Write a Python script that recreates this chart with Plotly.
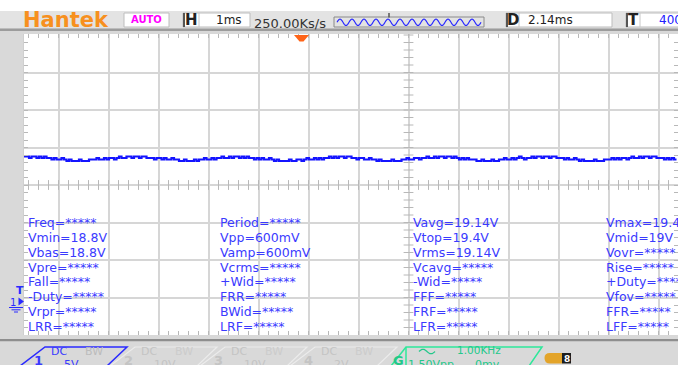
import math
import numpy as np
import plotly.graph_objects as go

# ---------------- channel 1 record ----------------
# volts, one sample every 0.05 ms, first sample at -5.55 ms (trigger at 0 ms)
ch1_volts = [
    19.4, 19.4, 19.2, 19.4, 19.4, 19.2, 19.4, 19.2, 19.4, 19.2,
    19.2, 19.0, 19.2, 19.0, 19.0, 19.2, 19.0,
    18.8, 19.0, 18.8, 18.8, 18.8, 19.0, 18.8, 18.8, 18.8, 19.0,
    19.0, 19.0, 19.2, 19.0, 19.0, 19.2, 19.0, 19.2, 19.2, 19.0, 19.2, 19.4, 19.2, 19.2, 19.4,
    19.4, 19.2, 19.4, 19.4, 19.2, 19.4, 19.4, 19.2,
    19.2, 19.2, 19.0, 19.2, 19.2, 19.0, 19.2, 19.0, 19.0, 19.2, 19.0, 19.0,
    18.8, 18.8, 19.0, 18.8, 18.8, 18.8,
    19.0, 18.8, 19.0, 19.0, 19.2, 19.0, 19.0, 19.2, 19.0, 19.2, 19.2, 19.4, 19.2, 19.2,
    19.4, 19.2, 19.4, 19.4, 19.2, 19.4, 19.2, 19.4,
    19.2, 19.2, 19.0, 19.2, 19.0, 19.2, 19.0, 19.0, 19.2, 19.0,
    18.8, 19.0, 18.8, 18.8, 18.8, 18.8, 19.0, 18.8, 18.8, 19.0,
    19.0, 18.8, 19.0, 19.2, 19.0, 19.0, 19.2, 19.0, 19.2, 19.0, 19.2, 19.2, 19.4, 19.2,
    19.4, 19.2, 19.4, 19.4, 19.2, 19.4, 19.4,
    19.2, 19.2, 19.0, 19.2, 19.2, 19.0, 19.0, 19.2, 19.0, 19.0,
    18.8, 19.0, 18.8, 18.8, 18.8, 18.8, 19.0, 18.8, 18.8, 18.8,
    19.0, 19.0, 19.2, 19.0, 19.0, 19.2, 19.2, 19.0, 19.2, 19.2, 19.4, 19.2, 19.2,
    19.4, 19.2, 19.4, 19.4, 19.2, 19.4, 19.4, 19.2, 19.4,
    19.2, 19.0, 19.2, 19.0, 19.2, 19.0, 19.0, 19.0,
    18.8, 18.8, 19.0, 18.8, 18.8, 18.8, 19.0, 18.8, 18.8,
    19.0, 19.0, 19.2, 19.0, 19.0, 19.2, 19.0, 19.2, 19.4, 19.2, 19.0, 19.2, 19.2, 19.4, 19.2,
    19.4, 19.4, 19.2, 19.4, 19.4, 19.2, 19.4, 19.4, 19.2,
    19.2, 19.2, 19.0, 19.2, 19.0, 19.0, 19.2, 19.0,
    18.8, 19.0, 18.8, 18.8, 18.8, 18.8, 19.0, 18.8, 18.8, 18.8, 19.0,
    19.0, 19.0, 19.2, 19.0, 19.2, 19.0, 19.2, 19.2, 19.0, 19.2, 19.4, 19.2, 19.2,
    19.4, 19.2, 19.4, 19.4, 19.2, 19.4, 19.4, 19.2,
    19.2, 19.2, 19.0, 19.2, 19.0, 19.2, 19.0, 19.0,
]
T0_MS = -5.55
DT_MS = 0.05

# ---------------- scope settings ----------------
volts_per_div = 5
ms_per_div = 1
delay_ms = 2.14
center_volts = 15.6          # ch1 value at the screen's centre line

timebase_text = "1ms"
sample_rate_text = "250.00Ks/s"
delay_text = "2.14ms"
trigger_text = "400mV"
mode_text = "AUTO"

# ---------------- automatic measurements ----------------
meas_col1 = ["Freq=*****", "Vmin=18.8V", "Vbas=18.8V", "Vpre=*****",
             "Fall=*****", "-Duty=*****", "Vrpr=*****", "LRR=*****"]
meas_col2 = ["Period=*****", "Vpp=600mV", "Vamp=600mV", "Vcrms=*****",
             "+Wid=*****", "FRR=*****", "BWid=*****", "LRF=*****"]
meas_col3 = ["Vavg=19.14V", "Vtop=19.4V", "Vrms=19.14V", "Vcavg=*****",
             "-Wid=*****", "FFF=*****", "FRF=*****", "LFR=*****"]
meas_col4 = ["Vmax=19.4V", "Vmid=19V", "Vovr=*****", "Rise=*****",
             "+Duty=*****", "Vfov=*****", "FFR=*****", "LFF=*****"]

# ---------------- channel tabs / generator ----------------
chan_ids = ["1", "2", "3", "4"]
chan_coupling = ["DC", "DC", "DC", "DC"]
chan_scale = ["5V", "10V", "10V", "2V"]
gen_freq = "1.00KHz"
gen_amp = "1.50Vpp"
gen_offset = "0mv"

# ---------------- page geometry (pixels) ----------------
W, H = 678, 365
L, R, T, B = 24, 678, 34, 335
GND_PX = 302.0
TRIG_PX = 301.5
PX_PER_MS = 50.0
PX_PER_V = 37.5 / volts_per_div

FONT = "DejaVu Sans"
MEAS_BLUE = "#3a3aff"
GRID = "#d6d6d6"
TICK = "#b8b8b8"


def fx(px):
    return (px - L) / (R - L)


def fy(py):
    return (B - py) / (B - T)


shapes = []
annotations = []


def rect(x0, y0, x1, y1, fill=None, line=None, lw=1.0):
    shapes.append(dict(
        type="rect", xref="paper", yref="paper",
        x0=fx(x0), x1=fx(x1), y0=fy(y1), y1=fy(y0),
        fillcolor=fill or "rgba(0,0,0,0)",
        line=dict(color=line or "rgba(0,0,0,0)", width=lw if line else 0),
        layer="above"))


def seg(x0, y0, x1, y1, color, lw=1.0):
    shapes.append(dict(
        type="line", xref="paper", yref="paper",
        x0=fx(x0), x1=fx(x1), y0=fy(y0), y1=fy(y1),
        line=dict(color=color, width=lw), layer="above"))


def poly(points, fill=None, line=None, lw=1.0, closed=True):
    d = "M " + " L ".join(f"{fx(a):.5f},{fy(b):.5f}" for a, b in points)
    if closed:
        d += " Z"
    shapes.append(dict(
        type="path", xref="paper", yref="paper", path=d,
        fillcolor=fill or "rgba(0,0,0,0)",
        line=dict(color=line or "rgba(0,0,0,0)", width=lw if line else 0),
        layer="above"))


def sine_icon(x0, x1, yc, amp, period, color, lw):
    n = int((x1 - x0) * 2)
    pts = [(x0 + k * 0.5, yc - amp * math.sin(2 * math.pi * (k * 0.5) / period))
           for k in range(n + 1)]
    poly(pts, line=color, lw=lw, closed=False)


def label(px, py, text, color, size, anchor="left", bold=False, family=FONT, box_h=None):
    if bold:
        text = f"<b>{text}</b>"
    ann = dict(
        x=fx(px), y=fy(py), xref="paper", yref="paper", text=text,
        showarrow=False, xanchor=anchor, yanchor="middle",
        font=dict(family=family, size=size, color=color))
    if box_h is not None:
        ann["height"] = box_h
        ann["borderpad"] = 0
    annotations.append(ann)


# ---------------- top status bar ----------------
rect(0, 0, W, 11, fill="#ffffff")
rect(0, 11, W, 28.5, fill="#e3e3e3")
rect(0, 28.5, W, 31, fill="#9c9c9c")
rect(0, 31, W, T, fill="#d8d8d8")

label(66, 19.5, "Hantek", "#f7901e", 21, anchor="center", bold=True)

rect(124, 13, 169, 27, fill="#ffffff", line="#bdbdbd")
label(146.5, 20, mode_text, "#ff00ff", 10, anchor="center", bold=True)

rect(183, 13, 250, 27, fill="#ffffff", line="#bdbdbd")
seg(184, 13, 184, 27, "#555555", 2)
seg(199, 13, 199, 27, "#c8c8c8", 1)
label(191.5, 20, "H", "#222222", 15, anchor="center", bold=True)
label(229, 20, timebase_text, "#222222", 12, anchor="center")

label(252, 23, sample_rate_text, "#333333", 13)

# memory overview strip with its mini waveform
rect(334, 17, 484, 27, line="#8a8a8a")
sine_icon(337, 481, 22.3, 3.2, 12.0, "#2a2aff", 1.2)
seg(389, 13, 389, 17.5, "#555555", 1.5)

rect(506, 13, 612, 27, fill="#ffffff", line="#bdbdbd")
seg(507, 13, 507, 27, "#555555", 2)
seg(519, 13, 519, 27, "#c8c8c8", 1)
label(513, 20, "D", "#222222", 15, anchor="center", bold=True)
label(526, 20, delay_text, "#222222", 12)

rect(626, 13, 700, 27, fill="#ffffff", line="#bdbdbd")
seg(627, 13, 627, 27, "#555555", 2)
seg(640, 13, 640, 27, "#c8c8c8", 1)
label(633, 20, "T", "#222222", 15, anchor="center", bold=True)
label(657, 20, trigger_text, "#2020ff", 12)

# ---------------- bottom bar ----------------
rect(0, B, W, 339, fill="#d8d8d8")
rect(0, 339, W, 341.5, fill="#8e8e8e")
rect(0, 341.5, W, H, fill="#d9d9d9")

ROW_H = 10.5
TOP_ROW, LOW_ROW = 351.5, 364.5
for i, cid in enumerate(chan_ids):
    off = 90 * i
    active = i == 0
    edge = "#2a2aff" if active else "#ececec"
    txt = "#3a3aff" if active else "#c4c4c4"
    poly([(20 + off, 366), (45 + off, 347), (127 + off, 347), (107 + off, 366)],
         line=edge, lw=1.5 if active else 1.2, closed=False)
    label(38 + off, 360.5, cid, txt, 13, anchor="center", bold=True)
    label(50 + off, TOP_ROW, chan_coupling[i], txt, 11, box_h=ROW_H)
    label(84 + off, TOP_ROW, "BW", "#bcbcbc" if active else "#cccccc", 11, box_h=ROW_H)
    label(63 + off, LOW_ROW, chan_scale[i], txt, 11, box_h=ROW_H)

GEN = "#2ee79a"
GEN_TXT = "#22c88a"
poly([(391, 366), (406, 347), (542, 347), (529, 366)], line=GEN, lw=1.5, closed=False)
seg(406, 347, 406, 366, GEN, 1.5)
label(398, 360.5, "G", GEN_TXT, 13, anchor="center", bold=True)
sine_icon(419, 435, 351.5, 2.2, 16.0, GEN_TXT, 1.3)
label(456, 351, gen_freq, GEN_TXT, 10.5, box_h=ROW_H)
label(407, LOW_ROW, gen_amp, GEN_TXT, 11, box_h=ROW_H)
label(474, LOW_ROW, gen_offset, GEN_TXT, 11, box_h=ROW_H)

# run-state pill
shapes.append(dict(type="path", xref="paper", yref="paper",
                   path=(f"M {fx(562):.5f},{fy(353):.5f} L {fx(550):.5f},{fy(353):.5f} "
                         f"Q {fx(544.5):.5f},{fy(353):.5f} {fx(544.5):.5f},{fy(358):.5f} "
                         f"Q {fx(544.5):.5f},{fy(363.5):.5f} {fx(550):.5f},{fy(363.5):.5f} "
                         f"L {fx(562):.5f},{fy(363.5):.5f} Z"),
                   fillcolor="#e3a42a", line=dict(width=0), layer="above"))
rect(562, 353, 571, 363.5, fill="#1e1e1e")
label(566.5, 358.5, "8", "#ffffff", 9, anchor="center", bold=True)

# ---------------- in-screen markers ----------------
# trigger position (orange) at t = 0
poly([(294, 35), (309, 35), (303.5, 41.5), (299.5, 41.5)], fill="#ff6418")

# channel 1 ground / trigger level markers on the left edge
label(20, 290.5, "T", "#2a2aff", 11, anchor="center", bold=True)
poly([(18.5, 297.5), (24, 301.5), (18.5, 305.5)], fill="#2a2aff")
label(12.5, 302, "1", "#2a2aff", 10, anchor="center")
seg(9, 307.5, 23, 307.5, "#2a2aff", 1)
seg(11.5, 309.8, 20.5, 309.8, "#2a2aff", 1)
seg(14, 312, 18, 312, "#2a2aff", 1)

# ---------------- measurement table ----------------
col_x = [26, 218, 410.5, 603.5]
row_y0, row_dy = 222.5, 14.85
for cx, col in zip(col_x, [meas_col1, meas_col2, meas_col3, meas_col4]):
    for r, txt in enumerate(col):
        label(cx, row_y0 + r * row_dy, txt, MEAS_BLUE, 12.5)

# ---------------- traces ----------------
time_ms = T0_MS + DT_MS * np.arange(len(ch1_volts))

x_range = [(L - TRIG_PX) / PX_PER_MS, (R - TRIG_PX) / PX_PER_MS]
y_range = [-(B - GND_PX) / PX_PER_V, (GND_PX - T) / PX_PER_V]

fig = go.Figure()

# centre-axis scale ticks
hx = [delay_ms + 0.2 * k for k in range(-40, 40)]
hx = [v for v in hx if x_range[0] < v < x_range[1]]
fig.add_trace(go.Scatter(
    x=hx, y=[center_volts] * len(hx), mode="markers", hoverinfo="skip",
    marker=dict(symbol="line-ns", size=7, line=dict(width=1, color=TICK))))
vy = [center_volts + k * 1.0 for k in range(-25, 25)]
vy = [v for v in vy if y_range[0] < v < y_range[1]]
fig.add_trace(go.Scatter(
    x=[delay_ms] * len(vy), y=vy, mode="markers", hoverinfo="skip",
    marker=dict(symbol="line-ew", size=7, line=dict(width=1, color=TICK))))

fig.add_trace(go.Scatter(
    x=time_ms, y=ch1_volts, mode="lines", line_shape="hv",
    line=dict(color="#1414ff", width=2.2), hoverinfo="skip"))

fig.update_layout(
    width=W, height=H,
    margin=dict(l=L, r=W - R, t=T, b=H - B),
    paper_bgcolor="#d9d9d9", plot_bgcolor="#ffffff",
    showlegend=False,
    shapes=shapes, annotations=annotations,
    xaxis=dict(range=x_range, showticklabels=False, zeroline=False,
               showgrid=True, gridcolor=GRID, gridwidth=1.5,
               tick0=delay_ms, dtick=ms_per_div,
               ticks="inside", ticklen=4, tickcolor=TICK,
               minor=dict(tick0=delay_ms, dtick=0.2, ticks="inside", ticklen=4,
                          tickcolor=TICK, showgrid=False),
               showline=True, linecolor="#cfcfcf", mirror="ticks",
               fixedrange=True),
    yaxis=dict(range=y_range, showticklabels=False, zeroline=False,
               showgrid=True, gridcolor=GRID, gridwidth=1.5,
               tick0=center_volts, dtick=volts_per_div,
               ticks="inside", ticklen=4, tickcolor=TICK,
               minor=dict(tick0=center_volts, dtick=1, ticks="inside", ticklen=4,
                          tickcolor=TICK, showgrid=False),
               showline=True, linecolor="#cfcfcf", mirror="ticks",
               fixedrange=True),
)

fig.write_html("out.html", config={"displayModeBar": False})
